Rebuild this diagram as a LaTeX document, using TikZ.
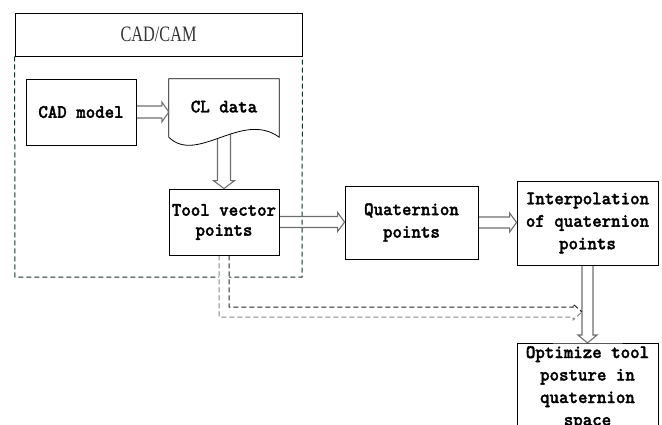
\documentclass[tikz,border=0pt]{standalone}
\usepackage{fontspec}
\usetikzlibrary{calc,backgrounds}
\newfontfamily\headfont{Liberation Serif}[FakeStretch=0.74]
\newfontfamily\boxfont{lmmonolt10-bold.otf}[FakeBold=1.6, FakeStretch=0.95]
\definecolor{framegreen}{HTML}{17301F}
\definecolor{arrowgray}{HTML}{6E6E6E}
\definecolor{dashgray}{HTML}{858585}
\definecolor{headgray}{HTML}{333333}

% hollow block arrow pointing right: start, end, half gap
\newcommand{\hollowright}[3]{%
  \draw[hollow] let \p1=(#1), \p2=(#2) in
    (\x1,\y1+#3) -- (\x2-7pt,\y1+#3) -- (\x2-7pt,\y1+#3+4pt) -- (\x2,\y1)
    -- (\x2-7pt,\y1-#3-4pt) -- (\x2-7pt,\y1-#3) -- (\x1,\y1-#3);}
% hollow block arrow pointing down: start, end, half gap
\newcommand{\hollowdown}[3]{%
  \draw[hollow] let \p1=(#1), \p2=(#2) in
    (\x1-#3,\y1) -- (\x1-#3,\y2+8pt) -- (\x1-#3-4pt,\y2+8pt) -- (\x1,\y2)
    -- (\x1+#3+4pt,\y2+8pt) -- (\x1+#3,\y2+8pt) -- (\x1+#3,\y1);}

\begin{document}
\begin{tikzpicture}[x=1pt,y=-1pt,
  boxtext/.style={font=\boxfont\fontsize{19}{22.5}\selectfont},
  box/.style={boxtext, draw=black, line width=0.8pt, fill=white, align=center, inner sep=0pt},
  hollow/.style={draw=arrowgray, line width=1.1pt, line join=miter},
  frame/.style={draw=framegreen, line width=1pt, dash pattern=on 5pt off 3pt},
  flowdash/.style={line width=1pt, dash pattern=on 5pt off 3pt},
  ]
\useasboundingbox (0,0) rectangle (662,425);

% CAD/CAM header
\node[draw, line width=0.8pt, minimum width=287pt, minimum height=43pt, inner sep=0pt,
      text=headgray, font=\headfont\fontsize{22}{24}\selectfont] (cadcam) at (158.5,34.5) {CAD/CAM};

\node[box, minimum width=110pt, minimum height=66pt] (cadmodel) at (81,112) {CAD model};

% document-shaped CL data (outline drawn on the background layer)
\node[boxtext, minimum width=110pt, minimum height=58pt, inner sep=0pt] (cl) at (224,108) {\raisebox{3pt}{CL data}};

\node[box, minimum width=110pt, minimum height=66pt,
      font=\boxfont\fontsize{19}{20}\selectfont] (toolvec) at (224,222) {Tool vector\\points};
\node[box, minimum width=133pt, minimum height=73pt] (quat) at (411.5,222.5) {Quaternion\\points};
\node[box, minimum width=141pt, minimum height=84pt] (interp) at (587.5,223) {Interpolation\\of quaternion\\points};

% box running off the lower edge
\coordinate (optop) at (587.5,343);
\draw[line width=0.8pt] (517,440) -- (517,343) -- (optop) -- (658,343) -- (658,440);
\node[boxtext, align=center, inner sep=0pt, anchor=north] (optim) at (587.5,346)
  {Optimize tool\\posture in\\quaternion\\space};

\coordinate (merge) at (582,312);

\begin{scope}[on background layer]
  \draw[frame] (cadcam.south west) -- (15,277) -- (302,277) -- (cadcam.south east);

  \hollowdown{cl.center}{toolvec.north}{6.5pt}
  \draw[line width=0.8pt, fill=white] (cl.north west) -- (cl.north east) -- (cl.south east)
    .. controls (242,110) and (197,165) .. (cl.south west) -- cycle;

  \hollowright{cadmodel.east}{cl.west}{6pt}
  \hollowright{toolvec.east}{quat.west}{5.5pt}
  \hollowright{quat.east}{interp.west}{5.5pt}
  \hollowdown{interp.south}{optop}{5.5pt}

  % dashed hollow arrow from the tool vectors to the interpolated stream
  \fill[white] let \p1=(toolvec.south), \p2=(merge) in
    (\x1-5pt,\y1) |- (\x2-9pt,\y2-5pt) -- (\x2-9pt,\y2+5pt) -| (\x1+5pt,\y1) -- cycle;
  \draw[flowdash, draw=black!85] let \p1=(toolvec.south), \p2=(merge) in
    (\x1+5pt,\y1) |- (\x2-9pt,\y2+5pt) -- (\x2-9pt,\y2+8pt) -- (\x2,\y2);
  \draw[flowdash, draw=dashgray] let \p1=(toolvec.south), \p2=(merge) in
    (\x1-5pt,\y1) |- (\x2-9pt,\y2-5pt) -- (\x2-9pt,\y2-8pt) -- (\x2,\y2);
\end{scope}
\end{tikzpicture}
\end{document}
